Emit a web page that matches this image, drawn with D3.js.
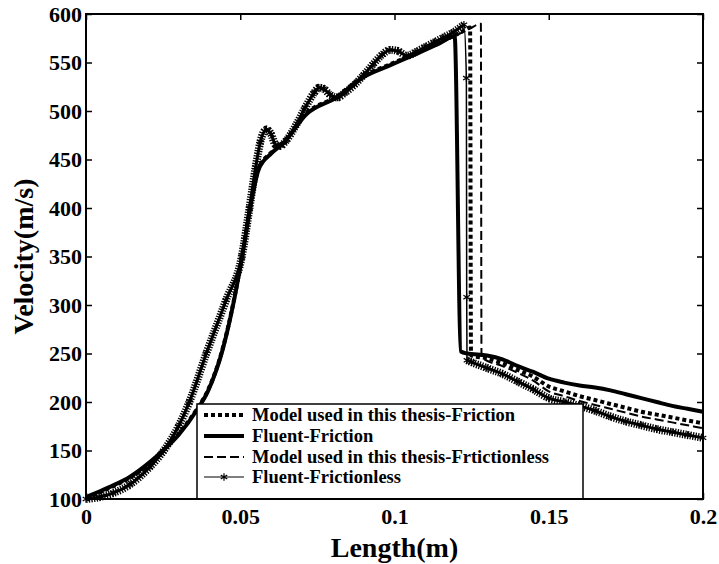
<!DOCTYPE html>
<html>
<head>
<meta charset="utf-8">
<script src="https://cdn.jsdelivr.net/npm/d3@7"></script>
<style>
  body { margin: 0; background: #fff; }
  svg { font-family: "Liberation Serif", "Times New Roman", serif; font-weight: bold; }
</style>
</head>
<body>
<svg width="719" height="564"></svg>
<script>
// ticks
const xTicks = [0, 0.05, 0.1, 0.15, 0.2];
const yTicks = [100, 150, 200, 250, 300, 350, 400, 450, 500, 550, 600];

// Model used in this thesis - Friction
const mfX = [0, 0.0045, 0.0088, 0.0143, 0.0207, 0.025, 0.03, 0.036, 0.0395, 0.0443, 0.048, 0.051, 0.0535, 0.056, 0.06, 0.064, 0.0716, 0.0813, 0.09, 0.0985, 0.105, 0.1147, 0.1195, 0.122, 0.1245, 0.1248, 0.13, 0.135, 0.14, 0.145, 0.15, 0.155, 0.16, 0.165, 0.17, 0.175, 0.18, 0.185, 0.19, 0.195, 0.2];
const mfY = [101, 107, 113, 122, 137, 150, 167, 193, 212, 255, 306, 358, 406, 441, 457, 468, 498, 515, 536, 548, 557, 571, 578, 582, 586, 248, 245, 240, 233, 226, 216, 211, 206, 202, 198, 194, 190, 187, 184, 181, 178];

// Fluent - Friction
const frX = [0, 0.0045, 0.0088, 0.0143, 0.0207, 0.025, 0.03, 0.036, 0.0395, 0.0443, 0.048, 0.051, 0.0535, 0.056, 0.06, 0.064, 0.0716, 0.0813, 0.09, 0.0985, 0.105, 0.1147, 0.1195, 0.1215, 0.1235, 0.13, 0.135, 0.14, 0.145, 0.15, 0.155, 0.16, 0.165, 0.17, 0.175, 0.18, 0.185, 0.19, 0.195, 0.2];
const frY = [102, 108, 114, 123, 138, 150, 166, 192, 211, 254, 305, 357, 405, 440, 456, 467, 497, 514, 535, 547, 556, 570, 577, 252, 250, 248, 244, 237, 231, 224, 220, 217, 215, 212, 208, 204, 200, 196, 193, 190];

// Model used in this thesis - Frictionless
const mlX = [0, 0.0045, 0.0088, 0.0143, 0.0207, 0.025, 0.03, 0.0335, 0.039, 0.0454, 0.0505, 0.053, 0.056, 0.06, 0.064, 0.0716, 0.0813, 0.09, 0.0985, 0.105, 0.1147, 0.1195, 0.1245, 0.128, 0.1282, 0.135, 0.14, 0.145, 0.15, 0.155, 0.16, 0.165, 0.17, 0.175, 0.18, 0.185, 0.19, 0.195, 0.2];
const mlY = [100, 103, 107, 116, 134, 150, 175, 200, 250, 305, 350, 400, 440, 456, 467, 497, 514, 535, 547, 556, 570, 577, 585, 590, 246, 237, 230, 222, 211, 206, 201, 197, 193, 189, 185, 182, 179, 176, 173];

// Fluent - Frictionless
const ffX = [0, 0.0045, 0.0088, 0.0143, 0.0207, 0.025, 0.03, 0.0335, 0.039, 0.0454, 0.0505, 0.053, 0.055, 0.0565, 0.0585, 0.06, 0.0615, 0.063, 0.065, 0.068, 0.071, 0.074, 0.0755, 0.077, 0.079, 0.0815, 0.084, 0.087, 0.09, 0.093, 0.096, 0.0985, 0.101, 0.104, 0.107, 0.11, 0.113, 0.116, 0.119, 0.1225, 0.1233, 0.1234, 0.1235, 0.125, 0.13, 0.135, 0.14, 0.145, 0.15, 0.155, 0.16, 0.165, 0.17, 0.175, 0.18, 0.185, 0.19, 0.195, 0.2];
const ffY = [100, 102, 106, 115, 133, 149, 175, 200, 250, 305, 350, 400, 442, 468, 481, 476, 465, 464, 470, 485, 503, 519, 524, 523, 517, 514, 519, 527, 537, 548, 558, 563, 562, 557, 561, 566, 571, 576, 581, 589, 534, 308, 243, 241, 235, 229, 221, 213, 204, 200, 196, 191, 185, 180, 176, 172, 169, 166, 163];

const legendNames = ["Model used in this thesis-Friction", "Fluent-Friction", "Model used in this thesis-Frtictionless", "Fluent-Frictionless"];

const margin = {left: 86, right: 16, top: 14, bottom: 65};
const W = 719, H = 564;
const svg = d3.select("svg");

const x = d3.scaleLinear().domain([0, 0.2]).range([margin.left, W - margin.right]);
const y = d3.scaleLinear().domain([100, 600]).range([H - margin.bottom, margin.top]);

const zip = (xs, ys) => xs.map((v, i) => [v, ys[i]]);
const line = d3.line().x(d => x(d[0])).y(d => y(d[1])).curve(d3.curveMonotoneX);

const series = [
  {pts: zip(mfX, mfY), width: 4, dash: "4,3"},
  {pts: zip(frX, frY), width: 4, dash: null},
  {pts: zip(mlX, mlY), width: 2, dash: "9,4"},
];

const plot = svg.append("g");

series.forEach(s => {
  plot.append("path").datum(s.pts).attr("d", line)
    .attr("fill", "none").attr("stroke", "#000")
    .attr("stroke-width", s.width)
    .attr("stroke-dasharray", s.dash)
    .attr("stroke-linejoin", "round");
});

// fluent frictionless: thin line, dense star markers look hairy
const ff = zip(ffX, ffY);
plot.append("path").datum(ff).attr("d", line)
  .attr("fill", "none").attr("stroke", "#000").attr("stroke-width", 1.5);

// split at the shock drop (nearly vertical), so the drop stays thin
let parts = [[ff[0]]];
for (let i = 1; i < ff.length; i++) {
  if (ff[i][0] - ff[i - 1][0] < 0.0012) parts.push([]);
  parts[parts.length - 1].push(ff[i]);
}
parts.filter(p => p.length > 1).forEach(p => {
  plot.append("path").datum(p).attr("d", line)
    .attr("fill", "none").attr("stroke", "#000")
    .attr("stroke-width", 8).attr("stroke-dasharray", "1.3,1.3");
  plot.append("path").datum(p).attr("d", line)
    .attr("fill", "none").attr("stroke", "#000").attr("stroke-width", 3);
});

const star = d3.symbol().type(d3.symbolAsterisk).size(40);
plot.selectAll(".star").data(ff).enter().append("path")
  .attr("class", "star")
  .attr("d", star)
  .attr("transform", d => `translate(${x(d[0])},${y(d[1])})`)
  .attr("fill", "none").attr("stroke", "#000").attr("stroke-width", 1.2);

// axes, ticks pointing inwards on all four sides
const fmt = d => String(d);
const gx = svg.append("g").attr("transform", `translate(0,${y(100)})`)
  .call(d3.axisBottom(x).tickValues(xTicks).tickSize(-6).tickPadding(9).tickFormat(fmt));
const gy = svg.append("g").attr("transform", `translate(${x(0)},0)`)
  .call(d3.axisLeft(y).tickValues(yTicks).tickSize(-6).tickPadding(4).tickFormat(fmt));
const gt = svg.append("g").attr("transform", `translate(0,${y(600)})`)
  .call(d3.axisTop(x).tickValues(xTicks).tickSize(-6).tickFormat(""));
const gr = svg.append("g").attr("transform", `translate(${x(0.2)},0)`)
  .call(d3.axisRight(y).tickValues(yTicks).tickSize(-6).tickFormat(""));

[gx, gy, gt, gr].forEach(g => {
  g.select(".domain").remove();
  g.selectAll(".tick line").attr("stroke", "#000").attr("stroke-width", 1.5);
  g.selectAll("text").attr("font-family", "Liberation Serif").attr("font-weight", "bold")
    .attr("font-size", 22).attr("fill", "#000");
});
gx.selectAll("text").attr("dy", "0.72em");

// legend box
const lg = svg.append("g");
const lgX = 197, lgY = 404;
lg.append("rect").attr("x", lgX).attr("y", lgY)
  .attr("width", 386).attr("height", y(100) - lgY)
  .attr("fill", "#fff").attr("stroke", "#000").attr("stroke-width", 1.5);

const rowY = [415, 436, 457, 477];
legendNames.forEach((name, i) => {
  const yy = rowY[i];
  if (i < 3) {
    const s = series[i];
    lg.append("line").attr("x1", lgX + 7).attr("x2", lgX + 47).attr("y1", yy).attr("y2", yy)
      .attr("stroke", "#000").attr("stroke-width", s.width).attr("stroke-dasharray", s.dash);
  } else {
    lg.append("line").attr("x1", lgX + 7).attr("x2", lgX + 47).attr("y1", yy).attr("y2", yy)
      .attr("stroke", "#000").attr("stroke-width", 1.2);
    lg.append("path").attr("d", star).attr("transform", `translate(${lgX + 27},${yy})`)
      .attr("fill", "none").attr("stroke", "#000").attr("stroke-width", 1.2);
  }
  lg.append("text").attr("x", lgX + 55).attr("y", yy).attr("dy", "0.35em")
    .attr("font-size", 18.5).text(name);
});

// frame
svg.append("rect").attr("x", x(0)).attr("y", y(600))
  .attr("width", x(0.2) - x(0)).attr("height", y(100) - y(600))
  .attr("fill", "none").attr("stroke", "#000").attr("stroke-width", 2);

// axis titles
svg.append("text").attr("x", (x(0) + x(0.2)) / 2).attr("y", 557)
  .attr("text-anchor", "middle").attr("font-size", 28).text("Length(m)");
svg.append("text").attr("transform", `translate(33,${(y(100) + y(600)) / 2}) rotate(-90)`)
  .attr("text-anchor", "middle").attr("font-size", 28).text("Velocity(m/s)");
</script>
</body>
</html>
